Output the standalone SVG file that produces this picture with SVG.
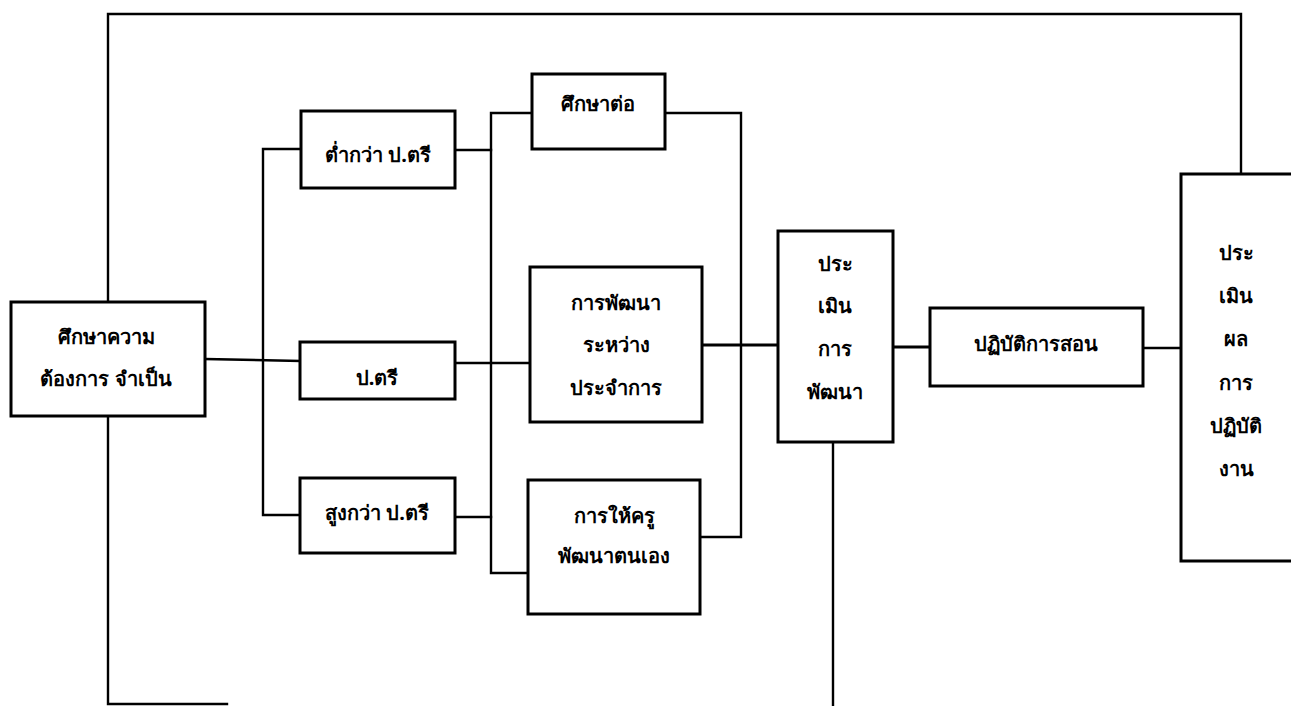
<svg xmlns="http://www.w3.org/2000/svg" width="1291" height="706" viewBox="0 0 1291 706">
  <style>
    .box { fill: #fff; stroke: #000; stroke-width: 3; }
    .wire { fill: none; stroke: #000; stroke-width: 2.4; stroke-linecap: square; }
    .lbl { font-family: "Noto Sans", "DejaVu Sans", "Liberation Sans", sans-serif; font-weight: bold; font-size: 20px; fill: #000; text-anchor: middle; dominant-baseline: central; }
  </style>
  <rect width="1291" height="706" fill="#fff"/>

  <!-- connectors -->
  <g id="connectors">
    <!-- outer feedback loop -->
    <polyline class="wire" points="227,704 108,704 108,14 1241,14 1241,174"/>
    <!-- needs study to first bus and ป.ตรี -->
    <line class="wire" x1="205" y1="359" x2="300" y2="361"/>
    <polyline class="wire" points="300,149 263,149 263,515 299,515"/>
    <!-- degree boxes to second bus -->
    <line class="wire" x1="455" y1="150" x2="491" y2="150"/>
    <line class="wire" x1="455" y1="363" x2="530" y2="363"/>
    <line class="wire" x1="455" y1="517" x2="491" y2="517"/>
    <polyline class="wire" points="532,113 491,113 491,573 528,573"/>
    <!-- programs to third bus -->
    <polyline class="wire" points="665,113 741,113 741,537 700,537"/>
    <line class="wire" x1="702" y1="345" x2="778" y2="345" style="stroke-width:3"/>
    <!-- evaluation to teaching practice to performance evaluation -->
    <line class="wire" x1="893" y1="347" x2="930" y2="347" style="stroke-width:3"/>
    <line class="wire" x1="1143" y1="348" x2="1181" y2="348"/>
    <line class="wire" x1="833" y1="442" x2="833" y2="708"/>
  </g>

  <g id="needs">
    <rect class="box" x="11" y="302" width="194" height="114"/>
    <text class="lbl" x="106" y="336">ศึกษาความ</text>
    <text class="lbl" x="106" y="378">ต้องการ จำเป็น</text>
  </g>

  <g id="below-bachelor">
    <rect class="box" x="301" y="111" width="154" height="77"/>
    <text class="lbl" x="378" y="154">ต่ำกว่า ป.ตรี</text>
  </g>

  <g id="bachelor">
    <rect class="box" x="300" y="342" width="155" height="57"/>
    <text class="lbl" x="377" y="377">ป.ตรี</text>
  </g>

  <g id="above-bachelor">
    <rect class="box" x="300" y="478" width="155" height="75"/>
    <text class="lbl" x="377" y="512">สูงกว่า ป.ตรี</text>
  </g>

  <g id="further-study">
    <rect class="box" x="532" y="74" width="133" height="75"/>
    <text class="lbl" x="598" y="103">ศึกษาต่อ</text>
  </g>

  <g id="in-service">
    <rect class="box" x="530" y="267" width="172" height="155"/>
    <text class="lbl" x="616" y="302">การพัฒนา</text>
    <text class="lbl" x="616" y="344">ระหว่าง</text>
    <text class="lbl" x="616" y="387">ประจำการ</text>
  </g>

  <g id="self-development">
    <rect class="box" x="528" y="480" width="172" height="134"/>
    <text class="lbl" x="614" y="515">การให้ครู</text>
    <text class="lbl" x="614" y="555">พัฒนาตนเอง</text>
  </g>

  <g id="dev-evaluation">
    <rect class="box" x="778" y="231" width="115" height="211"/>
    <text class="lbl" x="835" y="263">ประ</text>
    <text class="lbl" x="835" y="305">เมิน</text>
    <text class="lbl" x="835" y="348">การ</text>
    <text class="lbl" x="835" y="391">พัฒนา</text>
  </g>

  <g id="teaching-practice">
    <rect class="box" x="930" y="308" width="213" height="78"/>
    <text class="lbl" x="1036" y="343">ปฏิบัติการสอน</text>
  </g>

  <g id="performance-evaluation">
    <rect class="box" x="1181" y="174" width="130" height="387"/>
    <text class="lbl" x="1236" y="252">ประ</text>
    <text class="lbl" x="1236" y="295">เมิน</text>
    <text class="lbl" x="1236" y="338">ผล</text>
    <text class="lbl" x="1236" y="382">การ</text>
    <text class="lbl" x="1236" y="425">ปฏิบัติ</text>
    <text class="lbl" x="1236" y="468">งาน</text>
  </g>
</svg>
